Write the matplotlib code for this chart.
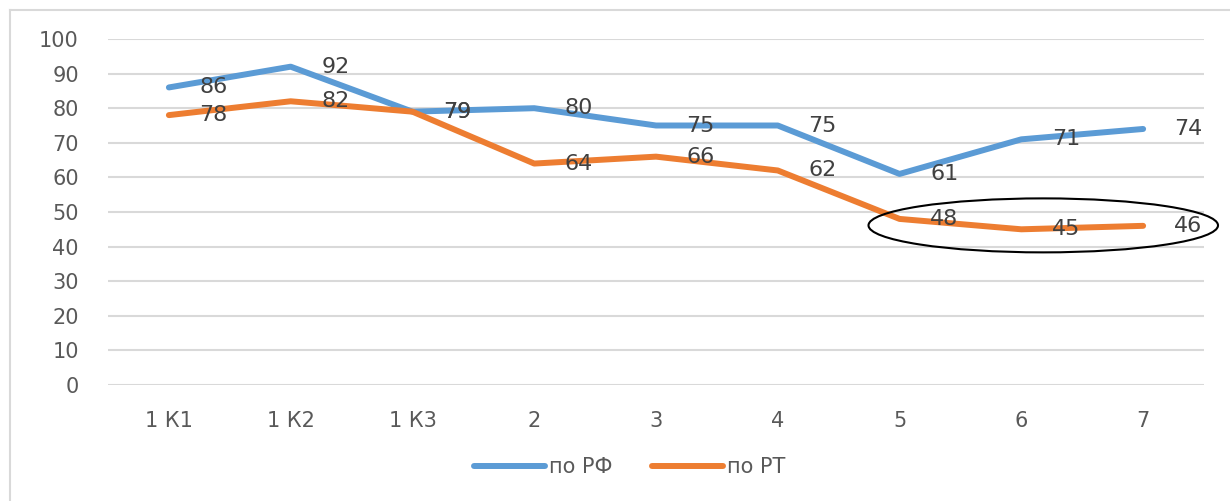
import matplotlib
matplotlib.use("Agg")
import matplotlib.pyplot as plt
from matplotlib.patches import Ellipse
from matplotlib.lines import Line2D

categories = ["1 К1", "1 К2", "1 К3", "2", "3", "4", "5", "6", "7"]
rf_values = [86, 92, 79, 80, 75, 75, 61, 71, 74]
rt_values = [78, 82, 79, 64, 66, 62, 48, 45, 46]
series_names = ["по РФ", "по РТ"]
y_ticks = [0, 10, 20, 30, 40, 50, 60, 70, 80, 90, 100]

blue = "#5B9BD5"
orange = "#ED7D31"
W, H = 1230, 501
fig = plt.figure(figsize=(W / 100, H / 100), dpi=100)
plt.rcParams['font.family'] = ['DejaVu Sans']

left_px, right_px, top_px, bottom_px = 108, 1204, 39, 385
ax = fig.add_axes([left_px / W, 1 - bottom_px / H,
                   (right_px - left_px) / W, (bottom_px - top_px) / H])

x = list(range(len(categories)))
ax.plot(x, rf_values, color=blue, lw=4.3, solid_capstyle='round', solid_joinstyle='round', zorder=3)
ax.plot(x, rt_values, color=orange, lw=4.3, solid_capstyle='round', solid_joinstyle='round', zorder=3)

for xi, v in zip(x, rf_values):
    ax.annotate(str(v), (xi, v), xytext=(22, 0), textcoords='offset points',
                ha='left', va='center', fontsize=16, color='#404040', zorder=4)
for xi, v in zip(x, rt_values):
    ax.annotate(str(v), (xi, v), xytext=(22, 0), textcoords='offset points',
                ha='left', va='center', fontsize=16, color='#404040', zorder=4)

ax.set_xlim(-0.5, len(categories) - 0.5)
ax.set_ylim(0, 100)
ax.set_yticks(y_ticks)
ax.set_xticks(x)
ax.set_xticklabels(categories)
ax.tick_params(axis='both', length=0, labelsize=15, labelcolor='#595959')
ax.tick_params(axis='y', pad=21)
ax.tick_params(axis='x', pad=19)
ax.grid(axis='y', color='#D9D9D9', lw=1.5)
ax.set_axisbelow(True)
for s in ax.spines.values():
    s.set_visible(False)

# Ellipse highlighting last three RT points
n = 3
cx = sum(x[-n:]) / n + 0.18
cy = sum(rt_values[-n:]) / n - 0.2
ell = Ellipse((cx, cy), width=2.87, height=15.6, fill=False, edgecolor='black', lw=1.5,
              clip_on=False, zorder=5)
ax.add_patch(ell)

# Chart border (top and left)
fig.add_artist(Line2D([10 / W, 10 / W], [0, 1 - 10 / H], color='#D9D9D9', lw=1.5))
fig.add_artist(Line2D([10 / W, 1], [1 - 10 / H, 1 - 10 / H], color='#D9D9D9', lw=1.5))

handles = [Line2D([], [], color=blue, lw=4.3, solid_capstyle='round'),
           Line2D([], [], color=orange, lw=4.3, solid_capstyle='round')]
leg = fig.legend(handles, series_names, loc='center', bbox_to_anchor=(630 / W, 1 - 467 / H),
                 ncol=2, frameon=False, fontsize=15, handlelength=3.4, handletextpad=0.2,
                 columnspacing=1.9, labelcolor='#595959')

fig.savefig("out.png", dpi=100)
